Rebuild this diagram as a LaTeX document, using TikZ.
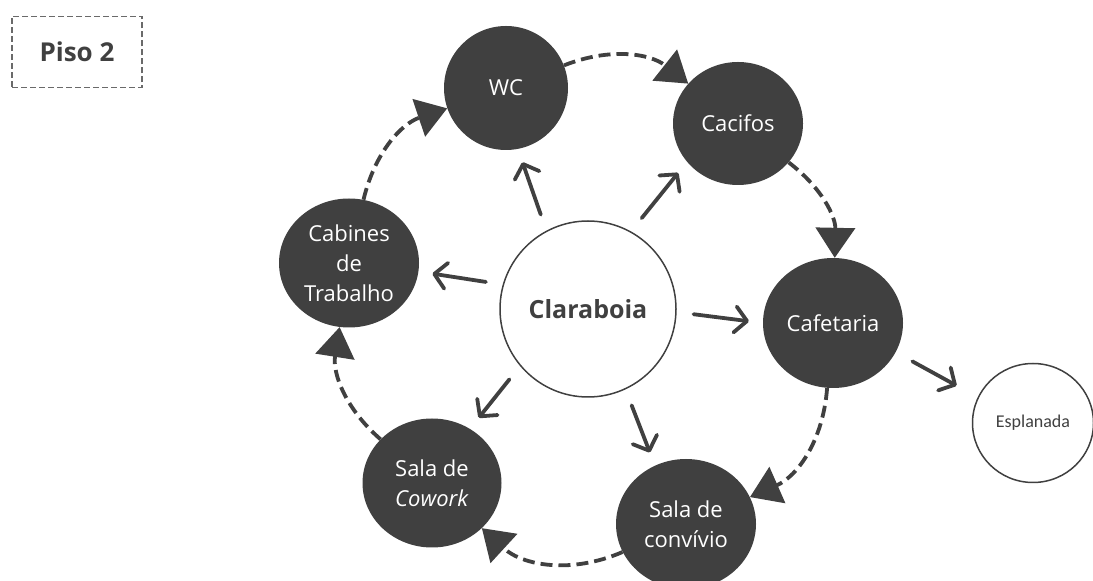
\documentclass[tikz,border=0pt]{standalone}
\usepackage{fontspec}
\setmainfont{Open Sans}
\newfontfamily\esplfont{Carlito}
\usetikzlibrary{arrows.meta,shapes.geometric}
\definecolor{ink}{HTML}{404040}
\definecolor{frame}{HTML}{6A6A6A}

\begin{document}
\begin{tikzpicture}[x=1pt,y=1pt,room/.style={ellipse,fill=ink,inner sep=0pt,text=white,align=center,font=\fontsize{22}{30}\selectfont},hub/.style={circle,draw=ink,line width=1.5pt,fill=white,minimum size=176pt,inner sep=0pt,text=ink,font=\fontsize{25}{30}\selectfont\bfseries},ray/.style={draw=ink,line width=3.8pt,line cap=round,-{Straight Barb[length=12pt,width=26pt,round]},shorten <=17pt,shorten >=14pt},flow/.style={draw=ink,line width=3.8pt,dash pattern=on 12pt off 6pt,-{Triangle[length=30pt,width=39pt,fill=ink]}}]
\useasboundingbox (0,0) rectangle (1093,581);
\coordinate (C) at (588,272);
\coordinate (W) at (506,493);
\coordinate (K) at (738,457.5);
\coordinate (F) at (833,258);
\coordinate (V) at (686,57);
\coordinate (R) at (432,98);
\coordinate (T) at (349,318);
\coordinate (E) at (1033,158);
\node[draw=frame,line width=1.3pt,dash pattern=on 6pt off 3pt,minimum width=130pt,minimum height=71pt,inner sep=0pt,text=ink,font=\fontsize{26}{30}\selectfont\bfseries] (piso) at (77,529) {Piso 2};
\node[hub] (clara) at (C) {Claraboia};
\node[room,minimum width=124pt,minimum height=124pt] (wc) at (W) {WC};
\node[room,minimum width=130pt,minimum height=123pt] (cacifos) at (K) {Cacifos};
\node[room,minimum width=140pt,minimum height=130pt] (cafe) at (F) {Cafetaria};
\node[room,minimum width=140pt,minimum height=130pt] (convivio) at (V) {Sala de\\conv\'ivio};
\node[room,minimum width=139pt,minimum height=129pt] (cowork) at (R) {Sala de\\\textit{Cowork}};
\node[room,minimum width=140pt,minimum height=129pt] (cabines) at (T) {Cabines\\de\\Trabalho};
\node[ellipse,draw=ink,line width=1.5pt,minimum width=121pt,minimum height=119pt,inner sep=0pt,text=ink,font=\esplfont\fontsize{18}{21}\selectfont] (espl) at (E) {Esplanada};
\draw[ray] (clara.118) -- (wc.281);
\draw[ray] (clara.61) -- (cacifos.217);
\draw[ray] (clara.164) -- (cabines.353);
\draw[ray] (clara.358) -- (cafe.180);
\draw[ray] (clara.220) -- (cowork.55);
\draw[ray] (clara.295) -- (convivio.118);
\draw[ray,shorten <=19pt,shorten >=24pt] (cafe.335) -- (espl.155);
\draw[flow] (wc) to[bend left=30] (cacifos);
\draw[flow] (cacifos) to[bend left=27] (cafe);
\draw[flow] (cafe) to[bend left=31] (convivio);
\draw[flow] (convivio) to[bend left=33] (cowork);
\draw[flow] (cowork) to[bend left=29] (cabines);
\draw[flow] (cabines) to[bend left=29] (wc);
\end{tikzpicture}
\end{document}
